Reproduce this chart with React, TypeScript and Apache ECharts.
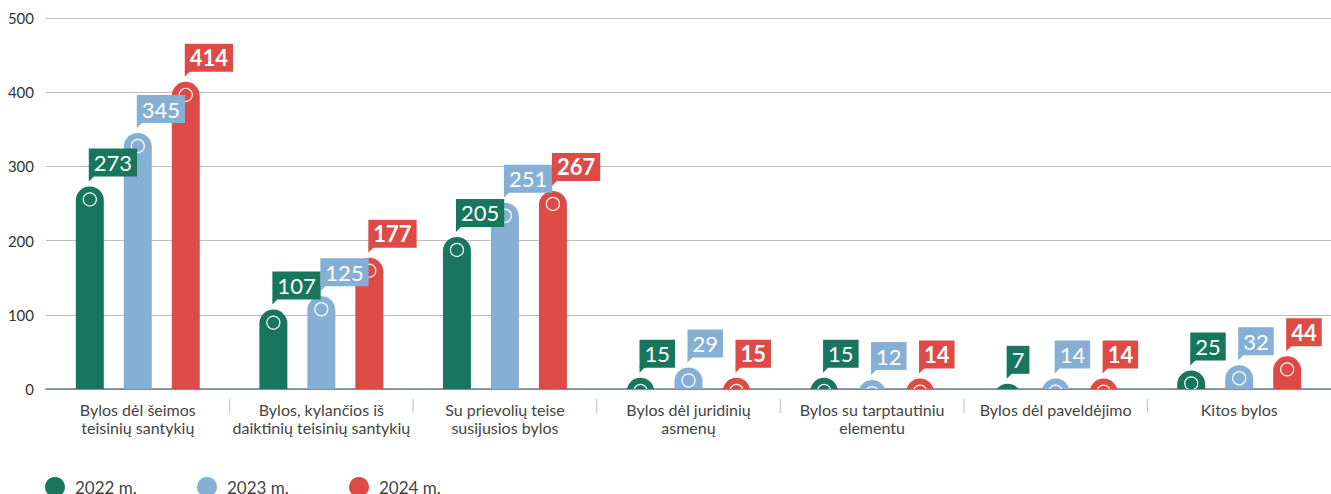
import React, { useEffect, useRef } from "react";
import * as echarts from "echarts";

const categories = [
  "Bylos dėl šeimos\nteisinių santykių",
  "Bylos, kylančios iš\ndaiktinių teisinių santykių",
  "Su prievolių teise\nsusijusios bylos",
  "Bylos dėl juridinių\nasmenų",
  "Bylos su tarptautiniu\nelementu",
  "Bylos dėl paveldėjimo",
  "Kitos bylos",
];
const seriesNames = ["2022 m.", "2023 m.", "2024 m."];
const values2022 = [273, 107, 205, 15, 15, 7, 25];
const values2023 = [345, 125, 251, 29, 12, 14, 32];
const values2024 = [414, 177, 267, 15, 14, 14, 44];
const yTicks = { min: 0, max: 500, interval: 100 };

const colors = ["#17765c", "#85afd4", "#dc4b46"];
const FONT = "Lato, 'Noto Sans', sans-serif";

function makeRender(sIdx: number) {
  return (params: any, api: any) => {
    const cat = api.value(0);
    const val = api.value(1);
    const band = api.size([1, 0])[0];
    const w = band * 0.1525;
    const off = (sIdx - 1) * band * 0.2614;
    const top = api.coord([cat, val]);
    const base = api.coord([cat, 0]);
    const cx = top[0] + off;
    const ty = top[1];
    const by = base[1];
    const cs = params.coordSys;
    const h = Math.max(by - ty, w);
    const children: any[] = [
      {
        type: "group",
        clipPath: { type: "rect", shape: { x: cs.x, y: cs.y - 50, width: cs.width, height: cs.height + 50 } },
        children: [
          {
            type: "rect",
            z2: 1,
            shape: { x: cx - w / 2, y: ty, width: w, height: h, r: [w / 2, w / 2, 0, 0] },
            style: { fill: colors[sIdx] },
          },
          {
            type: "circle",
            z2: 2,
            shape: { cx: cx, cy: ty + 13, r: 6.5 },
            style: { fill: "none", stroke: "#fff", lineWidth: 1.2 },
          },
        ],
      },
    ];
    const L = cx - 1;
    const B = ty - 10;
    children.push({
      type: "polygon",
      z2: 20,
      shape: { points: [[L, B - 1], [L + 6, B - 1], [L, B + 5]] },
      style: { fill: colors[sIdx] },
    });
    children.push({
      type: "text",
      z2: 21,
      x: L,
      y: B,
      style: {
        text: String(val),
        fontSize: 22,
        fontFamily: FONT,
        fontWeight: sIdx === 2 ? "bold" : "normal",
        fill: "#fff",
        backgroundColor: colors[sIdx],
        padding: [0, 5, 0, 5],
        lineHeight: 28,
        align: "left",
        verticalAlign: "bottom",
      },
    });
    if (sIdx === 0 && cat > 0) {
      const sx = base[0] - band / 2;
      children.push({
        type: "line",
        shape: { x1: sx, y1: by + 10, x2: sx, y2: by + 24 },
        style: { stroke: "#c8c8c8", lineWidth: 1.2 },
      });
    }
    return { type: "group", children };
  };
}

export default function App() {
  const ref = useRef<HTMLDivElement>(null);
  useEffect(() => {
    if (!ref.current) return;
    const chart = echarts.init(ref.current, null, { renderer: "svg" });
    const all = [values2022, values2023, values2024];
    const legendLefts = [45, 197, 349];
    chart.setOption({
      animation: false,
      grid: { left: 46, right: 0, top: 18, bottom: 105 },
      legend: seriesNames.map((n, i) => ({
        data: [n],
        left: legendLefts[i],
        top: 477,
        padding: 0,
        icon: "circle",
        itemWidth: 20,
        itemHeight: 20,
        textStyle: { fontSize: 17, color: "#444", fontFamily: FONT, padding: [0, 0, 0, 5] },
      })),
      xAxis: {
        type: "category",
        data: categories,
        axisLine: { lineStyle: { color: "#6e7b95", width: 1.5 } },
        axisTick: { show: false },
        axisLabel: { color: "#444", fontSize: 16, lineHeight: 18, margin: 11, fontFamily: FONT, interval: 0 },
      },
      yAxis: {
        type: "value",
        min: yTicks.min,
        max: yTicks.max,
        interval: yTicks.interval,
        axisLine: { show: false },
        axisTick: { show: false },
        axisLabel: { color: "#333", fontSize: 15, margin: 12, fontFamily: FONT },
        splitLine: { lineStyle: { color: "#bdbdbd", width: 1.2 } },
      },
      series: all.map((vals, i) => ({
        type: "custom",
        name: seriesNames[i],
        itemStyle: { color: colors[i] },
        encode: { x: 0, y: 1 },
        data: vals.map((v, j) => [j, v]),
        renderItem: makeRender(i),
        z: 2,
      })),
    });
    return () => chart.dispose();
  }, []);
  return <div ref={ref} style={{ position: "absolute", left: 0, top: 0, width: 1331, height: 494 }} />;
}
